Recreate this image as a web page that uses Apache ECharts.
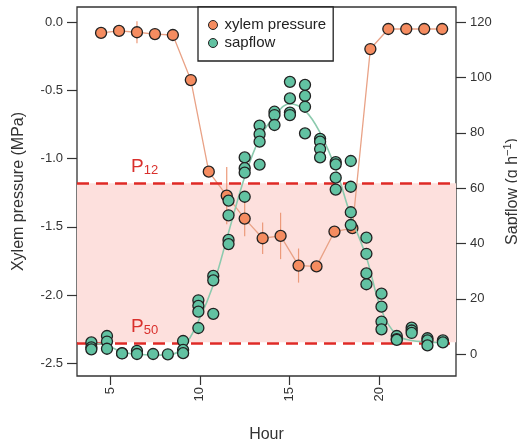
<!DOCTYPE html>
<html>
<head>
<meta charset="utf-8">
<script src="https://cdn.jsdelivr.net/npm/echarts@6/dist/echarts.min.js"></script>
<style>
  html, body { margin: 0; padding: 0; background: #fff; }
  #demo { width: 517px; height: 444px; }
</style>
</head>
<body>
<div id="demo"></div>
<script>
// xylem pressure (MPa), hourly means with error bars
var xpHour = [4.5, 5.5, 6.5, 7.5, 8.5, 9.5, 10.5, 11.5, 12.5, 13.5, 14.5, 15.5, 16.5, 17.5, 18.5, 19.5, 20.5, 21.5, 22.5, 23.5];
var xpMean = [-0.08, -0.065, -0.075, -0.088, -0.095, -0.425, -1.096, -1.272, -1.44, -1.584, -1.567, -1.784, -1.79, -1.535, -1.51, -0.198, -0.051, -0.051, -0.051, -0.051];
var xpErr = [0, 0, 0.08, 0, 0, 0, 0, 0.21, 0.13, 0.115, 0.17, 0.125, 0, 0, 0, 0, 0, 0, 0, 0];

// sapflow (g h-1), several trees per time step
var sapHour = [3.96, 4.83, 5.67, 6.5, 7.4, 8.22, 9.07, 9.92, 10.75, 11.6, 12.5, 13.33, 14.16, 15.02, 15.86, 16.7, 17.57, 18.41, 19.28, 20.12, 20.97, 21.8, 22.68, 23.54];
var sapFlow = [
    [4.3, 2.5, 1.8], [6.6, 4.6, 2.0], [0.4, 0.3], [1.2, 0.1], [0.1], [0.0],
    [4.8, 1.6, 0.4], [19.5, 17.5, 15.4, 9.5], [28.3, 26.7, 14.6], [55.5, 50.2, 41.3, 39.8],
    [71.1, 67.2, 65.6, 56.9], [82.6, 79.5, 76.8, 68.5], [87.6, 86.4, 82.8], [98.4, 92.4, 87.3, 86.4],
    [97.3, 93.3, 89.4, 79.8], [77.8, 76.8, 74.1, 71.1], [69.4, 68.6, 63.8, 59.5], [69.8, 60.5, 51.3, 46.7],
    [42.1, 36.3, 29.2, 25.3], [21.9, 17.2, 11.8, 9.0], [6.6, 5.5, 5.2], [9.6, 8.6, 7.7],
    [5.8, 5.0, 3.2], [5.0, 4.3]
];
// smoothed sapflow curve
var sapFit = [4.0, 3.2, 0.8, 0.0, -0.3, -0.3, 2.5, 12, 25, 44, 64, 78, 86, 90.5, 88, 80, 67, 50, 35, 16, 7, 5, 4.5, 4.2];

// thresholds (MPa)
var p12 = -1.181;
var p50 = -2.345;

// axis ranges and tick steps
var xRange = [3.16, 24.27], xTickRange = [5, 20], xStep = 5;
var leftRange = [-2.593, 0.11], leftTickRange = [-2.5, 0], leftStep = 0.5;
var rightRange = [-7.84, 125.42], rightTickRange = [0, 120], rightStep = 20;

var FONT = 'Liberation Sans';
var orange = '#f58c60';
var green = '#62c2a2';

window.onload = function() {
    var W = 517, H = 444;
    var G = { left: 77, right: 61, top: 7, bottom: 68 };
    var plotW = W - G.left - G.right, plotH = H - G.top - G.bottom;

    // helper grids whose ends sit on round tick values, so ticks start at a nice value
    function xPx(v) { return G.left + (v - xRange[0]) / (xRange[1] - xRange[0]) * plotW; }
    function yPx(v, r) { return G.top + (r[1] - v) / (r[1] - r[0]) * plotH; }

    var xpData = xpHour.map(function(h, i) { return [h, xpMean[i]]; });
    var errData = [];
    xpHour.forEach(function(h, i) {
        if (xpErr[i] > 0) errData.push([h, xpMean[i] - xpErr[i], xpMean[i] + xpErr[i]]);
    });
    var sapData = [];
    sapHour.forEach(function(h, i) {
        sapFlow[i].forEach(function(v) { sapData.push([h, v]); });
    });
    var fitData = sapHour.map(function(h, i) { return [h, sapFit[i]]; });

    var tickLabel = { fontFamily: FONT, fontSize: 13, color: '#333' };
    var tickStyle = { color: '#333', width: 1.2 };
    var nameStyle = { fontFamily: FONT, fontSize: 16, color: '#333' };
    var noLine = { show: false, onZero: false };
    var hidden = { show: false };

    var option = {
        animation: false,
        textStyle: { fontFamily: FONT },
        grid: [{
            left: G.left, right: G.right, top: G.top, bottom: G.bottom,
            show: true, borderColor: '#333', borderWidth: 1.3,
            containLabel: false, outerBoundsMode: 'none'
        }, {
            left: xPx(xTickRange[0]), right: W - xPx(xTickRange[1]), top: G.top, bottom: G.bottom,
            containLabel: false, outerBoundsMode: 'none'
        }, {
            left: G.left, right: G.right,
            top: yPx(leftTickRange[1], leftRange), bottom: H - yPx(leftTickRange[0], leftRange),
            containLabel: false, outerBoundsMode: 'none'
        }, {
            left: G.left, right: G.right,
            top: yPx(rightTickRange[1], rightRange), bottom: H - yPx(rightTickRange[0], rightRange),
            containLabel: false, outerBoundsMode: 'none'
        }],
        legend: {
            data: ['xylem pressure', 'sapflow'],
            orient: 'vertical',
            left: 198, top: 7,
            padding: [10, 7, 10, 10],
            itemGap: 2,
            itemWidth: 9, itemHeight: 9,
            icon: 'circle',
            borderColor: '#222', borderWidth: 1.3,
            backgroundColor: '#fff',
            itemStyle: { borderColor: '#222', borderWidth: 1 },
            textStyle: { fontFamily: FONT, fontSize: 15, lineHeight: 16, color: '#222', padding: [0, 0, 0, 2] }
        },
        xAxis: [{
            // data axis
            gridIndex: 0, type: 'value', min: xRange[0], max: xRange[1],
            name: 'Hour', nameLocation: 'middle', nameGap: 51, nameTextStyle: nameStyle,
            axisLine: noLine, axisTick: hidden, axisLabel: hidden, splitLine: hidden
        }, {
            // tick axis
            gridIndex: 1, type: 'value', min: xTickRange[0], max: xTickRange[1], interval: xStep,
            axisLine: noLine, splitLine: hidden,
            axisTick: { show: true, length: 9, lineStyle: tickStyle },
            axisLabel: Object.assign({ rotate: 90, margin: 11 }, tickLabel)
        }, {
            gridIndex: 2, type: 'value', show: false
        }, {
            gridIndex: 3, type: 'value', show: false
        }],
        yAxis: [{
            gridIndex: 0, type: 'value', min: leftRange[0], max: leftRange[1], position: 'left',
            name: 'Xylem pressure (MPa)', nameLocation: 'middle', nameGap: 50, nameRotate: 90,
            nameTextStyle: nameStyle,
            axisLine: noLine, axisTick: hidden, axisLabel: hidden, splitLine: hidden
        }, {
            gridIndex: 0, type: 'value', min: rightRange[0], max: rightRange[1], position: 'right',
            name: 'Sapflow (g h{sup|\u22121})', nameLocation: 'middle', nameGap: 46, nameRotate: 90,
            nameTextStyle: Object.assign({
                rich: { sup: { fontFamily: FONT, fontSize: 11, color: '#333', padding: [0, 0, 10, 0] } }
            }, nameStyle),
            axisLine: noLine, axisTick: hidden, axisLabel: hidden, splitLine: hidden
        }, {
            gridIndex: 1, type: 'value', show: false
        }, {
            gridIndex: 2, type: 'value', position: 'left',
            min: leftTickRange[0], max: leftTickRange[1], interval: leftStep,
            axisLine: noLine, splitLine: hidden,
            axisTick: { show: true, length: 10, lineStyle: tickStyle },
            axisLabel: Object.assign({
                margin: 14,
                formatter: function(v) { return v.toFixed(1); }
            }, tickLabel)
        }, {
            gridIndex: 3, type: 'value', position: 'right',
            min: rightTickRange[0], max: rightTickRange[1], interval: rightStep,
            axisLine: noLine, splitLine: hidden,
            axisTick: { show: true, length: 10, lineStyle: tickStyle },
            axisLabel: Object.assign({ margin: 14 }, tickLabel)
        }],
        series: [{
            // shaded zone between P12 and P50 with the threshold lines
            name: 'thresholds',
            type: 'line',
            data: [],
            xAxisIndex: 0,
            yAxisIndex: 0,
            markArea: {
                silent: true,
                itemStyle: { color: '#fde0dd' },
                data: [[{ yAxis: p12 }, { yAxis: p50 }]]
            },
            markLine: {
                silent: true,
                symbol: 'none',
                lineStyle: { color: '#df2a26', type: [12, 7], width: 2.6 },
                label: {
                    position: 'insideStartTop',
                    distance: [54, 6],
                    fontFamily: FONT, fontSize: 19, color: '#d9302c',
                    rich: { sub: { fontFamily: FONT, fontSize: 13, color: '#d9302c', padding: [8, 0, 0, 0] } }
                },
                data: [
                    { yAxis: p12, label: { formatter: 'P{sub|12}' } },
                    { yAxis: p50, label: { formatter: 'P{sub|50}' } }
                ]
            }
        }, {
            name: 'xylem error',
            type: 'custom',
            xAxisIndex: 0,
            yAxisIndex: 0,
            z: 3,
            data: errData,
            renderItem: function(params, api) {
                var top = api.coord([api.value(0), api.value(2)]);
                var bot = api.coord([api.value(0), api.value(1)]);
                return {
                    type: 'line',
                    shape: { x1: top[0], y1: top[1], x2: bot[0], y2: bot[1] },
                    style: { stroke: '#ec9a7a', lineWidth: 1.2 }
                };
            }
        }, {
            name: 'xylem pressure',
            type: 'line',
            xAxisIndex: 0,
            yAxisIndex: 0,
            z: 4,
            data: xpData,
            symbol: 'circle',
            symbolSize: 11,
            showAllSymbol: true,
            lineStyle: { color: '#e9a286', width: 1.3 },
            itemStyle: { color: orange, borderColor: '#222', borderWidth: 1.3 }
        }, {
            name: 'sapflow fit',
            type: 'line',
            xAxisIndex: 0,
            yAxisIndex: 1,
            z: 5,
            data: fitData,
            smooth: 0.4,
            showSymbol: false,
            lineStyle: { color: '#8ccaae', width: 1.6 }
        }, {
            name: 'sapflow',
            type: 'scatter',
            xAxisIndex: 0,
            yAxisIndex: 1,
            z: 6,
            data: sapData,
            symbol: 'circle',
            symbolSize: 11,
            itemStyle: { color: green, borderColor: '#222', borderWidth: 1.3, opacity: 1 }
        }]
    };

    var myCharts = echarts.init(document.getElementById('demo'));
    myCharts.setOption(option);
    window.onresize = function() {
        myCharts.resize();
    };
};
</script>
</body>
</html>
